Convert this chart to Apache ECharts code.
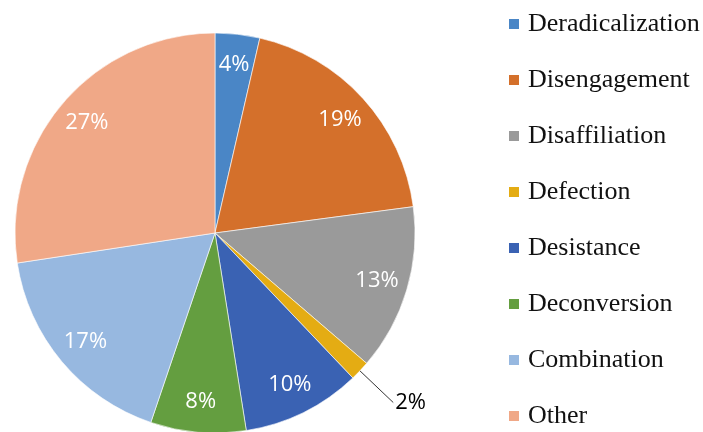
<!DOCTYPE html>
<html>
<head>
<meta charset="utf-8">
<script src="https://cdn.jsdelivr.net/npm/echarts@6/dist/echarts.min.js"></script>
<style>
  html, body { margin: 0; padding: 0; background: #fff; }
</style>
</head>
<body>
<div id="main" style="width: 703px; height: 432px;"></div>
<script>
// categories and shares (percent)
const categories = ["Deradicalization", "Disengagement", "Disaffiliation", "Defection",
  "Desistance", "Deconversion", "Combination", "Other"];
const shares = [3.6, 19.3, 13.4, 1.6, 9.6, 7.7, 17.4, 27.4];
const colors = ["#4A86C6", "#D4702B", "#9A9A9A", "#E4AC13",
  "#3A62B3", "#649E40", "#97B8E0", "#F0A887"];

const chart = echarts.init(document.getElementById("main"));

const center = [215, 233];
const R = 200;

const pieData = categories.map((name, i) => ({
  name: name,
  value: shares[i],
  itemStyle: { color: colors[i] }
}));

// transparent ring only used to place the percent labels near the rim
const labelData = categories.map((name, i) => {
  const d = { name: name, value: shares[i] };
  if (name === "Defection") {
    d.label = { position: "outside", color: "#000", distanceToLabelLine: 2 };
    d.labelLine = { show: true, length: 46, length2: 0 };
  }
  return d;
});

chart.setOption({
  animation: false,
  legend: {
    orient: "vertical",
    left: 507,
    top: 11,
    padding: 0,
    itemWidth: 12,
    itemHeight: 12,
    itemGap: 30,
    icon: "rect",
    selectedMode: false,
    data: categories,
    textStyle: {
      fontFamily: "'Liberation Serif', 'DejaVu Serif', serif",
      fontSize: 26,
      lineHeight: 26,
      color: "#111",
      padding: [0, 0, 0, 3]
    }
  },
  series: [
    {
      name: "main",
      type: "pie",
      center: center,
      radius: R,
      startAngle: 90,
      clockwise: true,
      silent: true,
      label: { show: false },
      labelLine: { show: false },
      itemStyle: { borderColor: "#fff", borderWidth: 0.6 },
      data: pieData
    },
    {
      name: "labels",
      type: "pie",
      center: center,
      radius: [132, R],
      startAngle: 90,
      clockwise: true,
      silent: true,
      avoidLabelOverlap: false,
      itemStyle: { color: "transparent" },
      label: {
        show: true,
        position: "inside",
        fontFamily: "Open Sans",
        fontSize: 22,
        color: "#fff",
        formatter: p => Math.round(p.percent) + "%"
      },
      labelLine: { show: false, lineStyle: { color: "#333", width: 1 } },
      data: labelData
    }
  ]
});
</script>
</body>
</html>
